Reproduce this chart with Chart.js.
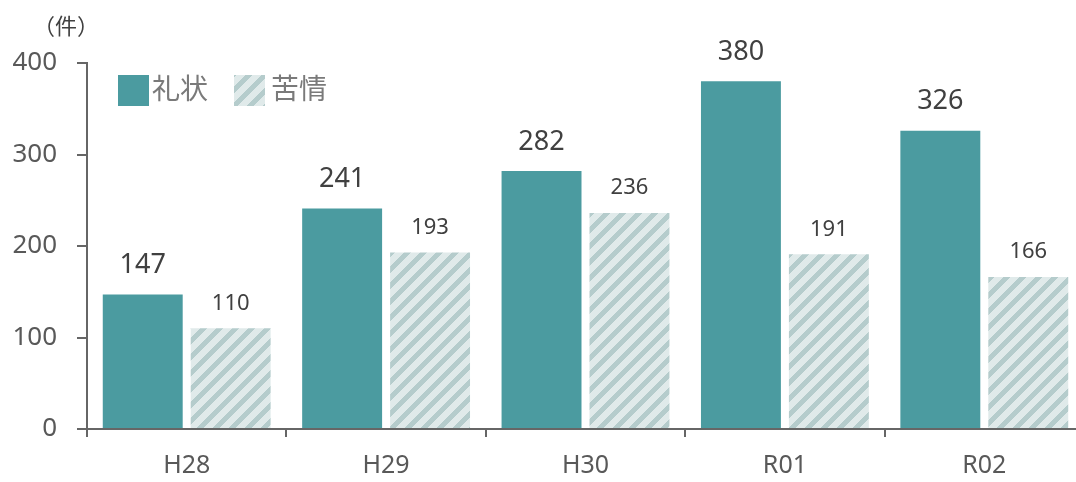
<!DOCTYPE html>
<html>
<head>
<meta charset="utf-8">
<script src="https://cdn.jsdelivr.net/npm/chart.js@4"></script>
<style>
  html, body { margin: 0; padding: 0; overflow: hidden; background: #fff; }
  #wrap { width: 1090px; height: 482px; }
</style>
</head>
<body>
<div id="wrap"><canvas id="chart" width="1090" height="482"></canvas></div>
<script>
// data
const years = ['H28', 'H29', 'H30', 'R01', 'R02'];
const thanks = [147, 241, 282, 380, 326];      // 礼状
const complaints = [110, 193, 236, 191, 166];  // 苦情
const yTicks = [0, 100, 200, 300, 400];

const FONT = '"Segoe UI", "Noto Sans", "Noto Sans CJK JP", sans-serif';
const TEAL = '#4b9ba0';

// hatched fill for 苦情
const makeHatch = () => {
  const c = document.createElement('canvas');
  c.width = 16; c.height = 16;
  const g = c.getContext('2d');
  g.fillStyle = '#e0eaea';
  g.fillRect(0, 0, 16, 16);
  g.fillStyle = '#b5cccc';
  for (let y = 0; y < 16; y++) {
    for (let x = 0; x < 16; x++) {
      if ((x + y) % 16 < 7) g.fillRect(x, y, 1, 1);
    }
  }
  return g.createPattern(c, 'repeat');
};
const ctx = document.getElementById('chart').getContext('2d');
const hatch = makeHatch();

// value labels + legend + unit
const extras = {
  id: 'extras',
  afterDatasetsDraw(chart) {
    const c = chart.ctx;
    c.save();
    c.textAlign = 'center';
    c.textBaseline = 'middle';
    c.fillStyle = '#404040';
    chart.data.datasets.forEach((ds, i) => {
      const meta = chart.getDatasetMeta(i);
      c.font = (i === 0 ? '27px ' : '22px ') + FONT;
      meta.data.forEach((bar, j) => {
        c.fillText(ds.data[j], bar.x, bar.y - (i === 0 ? 29 : 25));
      });
    });

    // unit
    c.fillStyle = '#404040';
    c.font = '22px ' + FONT;
    c.fillText('（件）', 66, 28);

    // legend
    c.textAlign = 'left';
    c.font = '28px ' + FONT;
    c.fillStyle = TEAL;
    c.fillRect(118, 75, 31, 31);
    c.fillStyle = '#7a7a7a';
    c.fillText('礼状', 152, 91);
    c.fillStyle = hatch;
    c.fillRect(234, 75, 31, 31);
    c.fillStyle = '#7a7a7a';
    c.fillText('苦情', 271, 91);
    c.restore();
  }
};

new Chart(ctx, {
  type: 'bar',
  data: {
    labels: years,
    datasets: [
      { label: '礼状', data: thanks, backgroundColor: TEAL },
      { label: '苦情', data: complaints, backgroundColor: hatch }
    ]
  },
  options: {
    responsive: false,
    animation: false,
    layout: { padding: { top: 63, right: 6, left: 0, bottom: 0 } },
    categoryPercentage: 0.882,
    barPercentage: 0.909,
    plugins: { legend: { display: false }, tooltip: { enabled: false } },
    scales: {
      x: {
        afterFit: (s) => { s.height = 53; },
        grid: { display: true, drawOnChartArea: false, drawTicks: true, tickLength: 8, color: '#666', lineWidth: 2 },
        border: { display: true, color: '#666', width: 2 },
        ticks: { color: '#595959', font: { family: FONT, size: 25 }, padding: 14 }
      },
      y: {
        min: 0,
        max: 400,
        afterFit: (s) => { s.width = 87; },
        afterBuildTicks: (s) => { s.ticks = yTicks.map(v => ({ value: v })); },
        grid: { display: true, drawOnChartArea: false, drawTicks: true, tickLength: 10, color: '#666', lineWidth: 2 },
        border: { display: true, color: '#666', width: 2 },
        ticks: { color: '#595959', font: { family: FONT, size: 26 }, padding: 20 }
      }
    }
  },
  plugins: [extras]
});
</script>
</body>
</html>
